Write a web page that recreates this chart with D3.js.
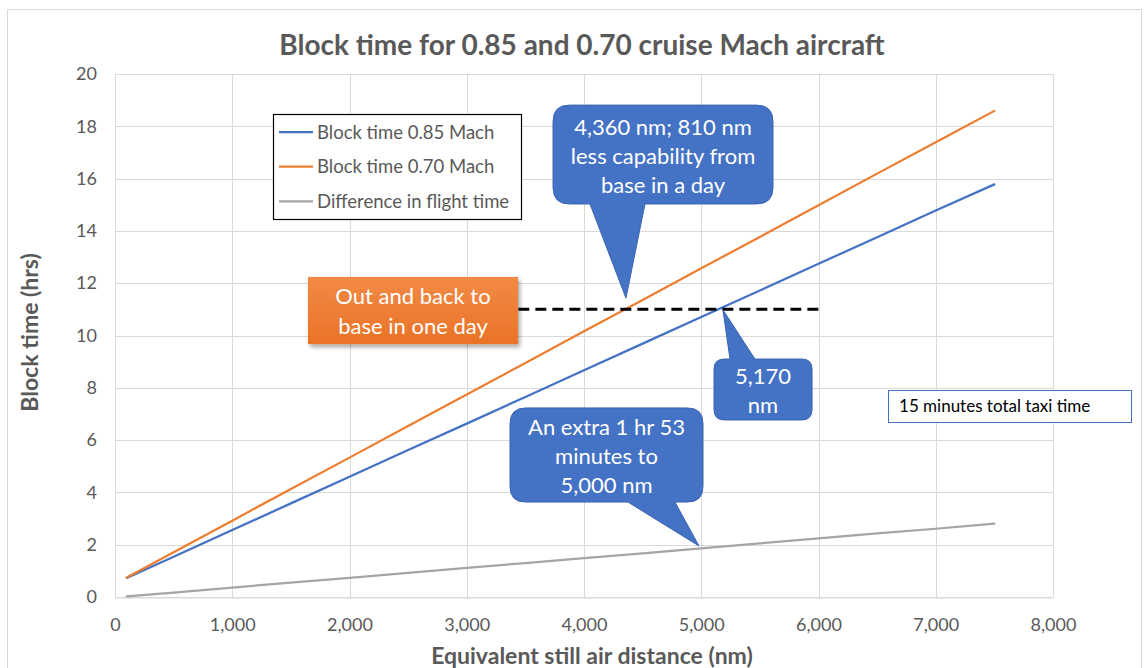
<!DOCTYPE html>
<html>
<head>
<meta charset="utf-8">
<script src="https://cdn.jsdelivr.net/npm/d3@7"></script>
<style>
  html, body { margin: 0; padding: 0; background: #fff; }
  svg { display: block; font-family: Lato, "Open Sans", sans-serif; }
</style>
</head>
<body>
<svg id="chart" width="1148" height="668"></svg>
<script>
// ---------- data ----------
const distances = [100, 500, 1000, 1500, 2000, 2500, 3000, 3500, 4000, 4500, 5000, 5500, 6000, 6500, 7000, 7500];
const block085 = [0.73, 1.54, 2.56, 3.58, 4.60, 5.62, 6.63, 7.65, 8.67, 9.69, 10.71, 11.72, 12.74, 13.76, 14.78, 15.78];
const block070 = [0.75, 1.71, 2.92, 4.13, 5.33, 6.54, 7.74, 8.95, 10.16, 11.36, 12.57, 13.77, 14.98, 16.19, 17.39, 18.59];
const diffTime = [0.02, 0.17, 0.36, 0.55, 0.73, 0.92, 1.11, 1.30, 1.49, 1.67, 1.86, 2.05, 2.24, 2.43, 2.61, 2.81];
const seriesNames = ["Block time 0.85 Mach", "Block time 0.70 Mach", "Difference in flight time"];
const xTicks = [0, 1000, 2000, 3000, 4000, 5000, 6000, 7000, 8000];
const yTicks = [0, 2, 4, 6, 8, 10, 12, 14, 16, 18, 20];
const oneDayHours = 11;
const oneDayRange = [3440, 6040];
const titleText = "Block time for 0.85 and 0.70 cruise Mach aircraft";
const xTitle = "Equivalent still air distance (nm)";
const yTitle = "Block time (hrs)";

// annotation anchors in data units (nm, hrs)
const callouts = [
  { lines: ["4,360 nm; 810 nm", "less capability from", "base in a day"],
    box: [3736, 18.81, 5612, 15.03], side: "bottom", base: [4051, 4520], tip: [4358, 11.43] },
  { lines: ["5,170", "nm"],
    box: [5109, 9.10, 5945, 6.77], side: "top", base: [5245, 5458], tip: [5185, 10.98] },
  { lines: ["An extra 1 hr 53", "minutes to", "5,000 nm"],
    box: [3369, 7.23, 5015, 3.63], side: "bottom", base: [4375, 4776], tip: [4981, 1.95] }
];
const orangeNote = { lines: ["Out and back to", "base in one day"], box: [1646, 12.24, 3437, 9.67] };
const taxiNote = { text: "15 minutes total taxi time", box: [6593, 7.92, 8665, 6.69] };

// ---------- layout ----------
const svg = d3.select("#chart");
const plot = { left: 115, right: 1053, top: 74, bottom: 597 };
const colors = ["#4472C4", "#ED7D31", "#A5A5A5"];
const textColor = "#595959";

const x = d3.scaleLinear().domain([0, 8000]).range([plot.left, plot.right]);
const y = d3.scaleLinear().domain([0, 20]).range([plot.bottom, plot.top]);

const defs = svg.append("defs");
const grad = defs.append("linearGradient").attr("id", "og").attr("x1", 0).attr("y1", 0).attr("x2", 0).attr("y2", 1);
grad.append("stop").attr("offset", "0%").attr("stop-color", "#F28A45");
grad.append("stop").attr("offset", "100%").attr("stop-color", "#EA7327");
const shadow = defs.append("filter").attr("id", "sh").attr("x", "-10%").attr("y", "-10%").attr("width", "130%").attr("height", "140%");
shadow.append("feDropShadow").attr("dx", 2).attr("dy", 3).attr("stdDeviation", 2).attr("flood-color", "#000").attr("flood-opacity", 0.35);

// chart border
svg.append("rect").attr("x", 7.5).attr("y", 9.5).attr("width", 1134).attr("height", 680)
  .attr("fill", "#fff").attr("stroke", "#D9D9D9").attr("stroke-width", 1);

// title
svg.append("text").attr("x", 582).attr("y", 55).attr("text-anchor", "middle")
  .attr("font-size", 28).attr("font-weight", "bold").attr("fill", textColor).text(titleText);

// gridlines
const grid = svg.append("g");
grid.selectAll("line.h").data(yTicks).join("line")
  .attr("x1", plot.left).attr("x2", plot.right)
  .attr("y1", d => Math.round(y(d)) + 0.5).attr("y2", d => Math.round(y(d)) + 0.5)
  .attr("stroke", "#D9D9D9").attr("stroke-width", 1);
grid.selectAll("line.v").data(xTicks).join("line")
  .attr("y1", plot.top).attr("y2", plot.bottom)
  .attr("x1", d => Math.round(x(d)) + 0.5).attr("x2", d => Math.round(x(d)) + 0.5)
  .attr("stroke", "#D9D9D9").attr("stroke-width", 1);

// axes
const xAxis = svg.append("g").attr("transform", `translate(0,${plot.bottom + 0.5})`)
  .call(d3.axisBottom(x).tickValues(xTicks).tickSize(0).tickPadding(21).tickFormat(d3.format(",")));
xAxis.select(".domain").attr("stroke", "#D9D9D9");
xAxis.selectAll("text").attr("font-size", 18).attr("fill", textColor).attr("font-family", "Lato, sans-serif");

const yAxis = svg.append("g").attr("transform", `translate(${plot.left},0)`)
  .call(d3.axisLeft(y).tickValues(yTicks).tickSize(0).tickPadding(18).tickFormat(d3.format("d")));
yAxis.select(".domain").remove();
yAxis.selectAll("text").attr("font-size", 18).attr("fill", textColor).attr("font-family", "Lato, sans-serif");

// axis titles
svg.append("text").attr("x", (plot.left + plot.right) / 2 + 8).attr("y", 664).attr("text-anchor", "middle")
  .attr("font-size", 23).attr("font-weight", "bold").attr("fill", textColor).text(xTitle);
svg.append("text").attr("transform", `translate(38,${(plot.top + plot.bottom) / 2 - 3}) rotate(-90)`)
  .attr("text-anchor", "middle").attr("font-size", 23).attr("font-weight", "bold").attr("fill", textColor).text(yTitle);

// series
const seriesData = [block085, block070, diffTime];
const line = d3.line().x((d, i) => x(distances[i])).y(d => y(d));
svg.append("g").selectAll("path").data(seriesData).join("path")
  .attr("d", d => line(d)).attr("fill", "none")
  .attr("stroke", (d, i) => colors[i]).attr("stroke-width", 2.25).attr("stroke-linecap", "round");

// one-day dashed line
svg.append("line")
  .attr("x1", x(oneDayRange[0])).attr("x2", x(oneDayRange[1]))
  .attr("y1", y(oneDayHours)).attr("y2", y(oneDayHours))
  .attr("stroke", "#000").attr("stroke-width", 3).attr("stroke-dasharray", "11,6");

// legend
const lg = svg.append("g");
lg.append("rect").attr("x", 273.5).attr("y", 114.5).attr("width", 248).attr("height", 105)
  .attr("fill", "#fff").attr("stroke", "#000").attr("stroke-width", 1.2);
seriesNames.forEach((name, i) => {
  const cy = 132 + i * 34.7;
  lg.append("line").attr("x1", 279).attr("x2", 313).attr("y1", cy).attr("y2", cy)
    .attr("stroke", colors[i]).attr("stroke-width", 2.25);
  lg.append("text").attr("x", 317).attr("y", cy + 6.5).attr("font-size", 18.5).attr("fill", textColor).text(name);
});

// callouts
function calloutPath(c) {
  const x0 = x(c.box[0]), y0 = y(c.box[1]), x1 = x(c.box[2]), y1 = y(c.box[3]);
  const r = Math.min(x1 - x0, y1 - y0) * 0.1667;
  const b0 = x(c.base[0]), b1 = x(c.base[1]);
  const tx = x(c.tip[0]), ty = y(c.tip[1]);
  const p = d3.path();
  p.moveTo(x0 + r, y0);
  if (c.side === "top") { p.lineTo(b0, y0); p.lineTo(tx, ty); p.lineTo(b1, y0); }
  p.lineTo(x1 - r, y0);
  p.quadraticCurveTo(x1, y0, x1, y0 + r);
  p.lineTo(x1, y1 - r);
  p.quadraticCurveTo(x1, y1, x1 - r, y1);
  if (c.side === "bottom") { p.lineTo(b1, y1); p.lineTo(tx, ty); p.lineTo(b0, y1); }
  p.lineTo(x0 + r, y1);
  p.quadraticCurveTo(x0, y1, x0, y1 - r);
  p.lineTo(x0, y0 + r);
  p.quadraticCurveTo(x0, y0, x0 + r, y0);
  p.closePath();
  return p.toString();
}
const cg = svg.append("g");
callouts.forEach(c => {
  cg.append("path").attr("d", calloutPath(c)).attr("fill", "#4472C4").attr("stroke", "#3A64AE").attr("stroke-width", 1);
  const cx = (x(c.box[0]) + x(c.box[2])) / 2;
  const cyMid = (y(c.box[1]) + y(c.box[3])) / 2;
  const lh = 29;
  const n = c.lines.length;
  c.lines.forEach((t, i) => {
    cg.append("text").attr("x", cx).attr("y", cyMid + (i - (n - 1) / 2) * lh + 9)
      .attr("text-anchor", "middle").attr("font-size", 22).attr("fill", "#fff").text(t);
  });
});

// orange note
{
  const x0 = x(orangeNote.box[0]), y0 = y(orangeNote.box[1]), x1 = x(orangeNote.box[2]), y1 = y(orangeNote.box[3]);
  svg.append("rect").attr("x", x0).attr("y", y0).attr("width", x1 - x0).attr("height", y1 - y0)
    .attr("fill", "url(#og)").attr("filter", "url(#sh)");
  const cx = (x0 + x1) / 2, cyMid = (y0 + y1) / 2;
  orangeNote.lines.forEach((t, i) => {
    svg.append("text").attr("x", cx).attr("y", cyMid + (i - 0.5) * 30 + 8)
      .attr("text-anchor", "middle").attr("font-size", 22).attr("fill", "#fff").text(t);
  });
}

// taxi note
{
  const x0 = x(taxiNote.box[0]), y0 = y(taxiNote.box[1]), x1 = x(taxiNote.box[2]), y1 = y(taxiNote.box[3]);
  svg.append("rect").attr("x", Math.round(x0) + 0.5).attr("y", Math.round(y0) + 0.5)
    .attr("width", Math.round(x1 - x0)).attr("height", Math.round(y1 - y0))
    .attr("fill", "#fff").attr("stroke", "#4472C4").attr("stroke-width", 1);
  svg.append("text").attr("x", x0 + 11).attr("y", (y0 + y1) / 2 + 6)
    .attr("font-size", 17).attr("fill", "#000").text(taxiNote.text);
}
</script>
</body>
</html>
